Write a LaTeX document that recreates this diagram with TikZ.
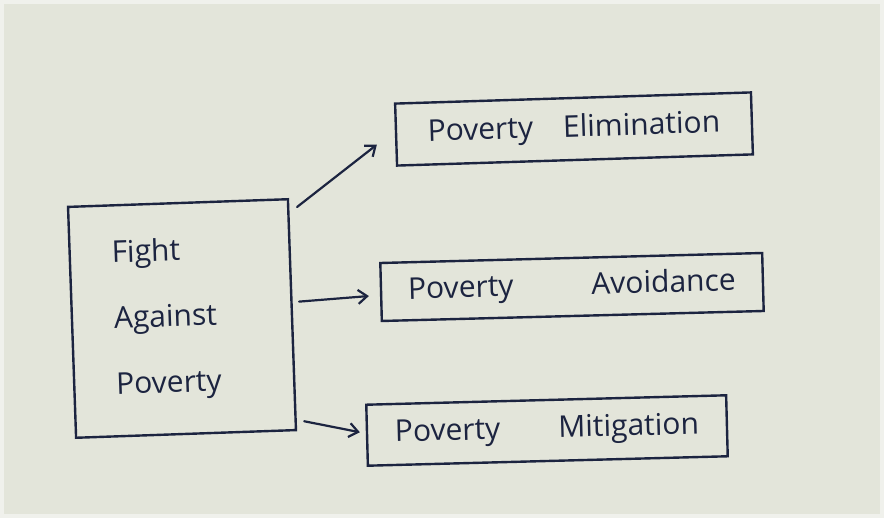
\documentclass[tikz,border=0pt]{standalone}
\usepackage{fontspec}
\setmainfont{Open Sans}
\usetikzlibrary{arrows.meta}
\definecolor{paper}{HTML}{E3E5DA}
\definecolor{paperedge}{HTML}{F0F1EC}
\definecolor{ink}{HTML}{1C2440}
\tikzset{
  box/.style={draw=ink, line width=2.4pt, rectangle, inner sep=0pt,
    text=ink, font=\fontsize{30}{66}\selectfont},
  arrow/.style={draw=ink, line width=2.2pt, line cap=round,
    -{Straight Barb[length=9pt,width=14pt,line width=2.2pt]}},
}
\begin{document}
\begin{tikzpicture}[x=1pt,y=-1pt]
  % paper sheet with a pale rim
  \fill[paperedge] (0,0) rectangle (884,518);
  \fill[paper] (4,4) rectangle (880,514);
  \useasboundingbox (0,0) rectangle (884,518);

  % main box
  \node[box, minimum width=220pt, minimum height=231pt, rotate=2,
        text width=136pt, align=left] (fight) at (182,318.5)
        {Fight\\Against\\Poverty};

  % the three outcome boxes
  \node[box, minimum width=356pt, minimum height=62pt, rotate=1.8] (elim)
        at (574,129) {Poverty\hspace{30pt}Elimination\hspace{10pt}};
  \node[box, minimum width=382pt, minimum height=58pt, rotate=1.5] (avoid)
        at (572,287) {Poverty\hspace{78pt}Avoidance};
  \node[box, minimum width=360pt, minimum height=61pt, rotate=1.5] (mitig)
        at (547,430.5) {Poverty\hspace{58pt}Mitigation\hspace{4pt}};

  % connectors
  \draw[arrow] ([shift={(8,9)}]fight.north east) -- ([shift={(-18,10)}]elim.west);
  \draw[arrow] ([shift={(6,-13)}]fight.east) -- ([shift={(-11,4)}]avoid.west);
  \draw[arrow] ([shift={(7,-10)}]fight.south east) -- ([shift={(-6,-3)}]mitig.west);
\end{tikzpicture}
\end{document}
